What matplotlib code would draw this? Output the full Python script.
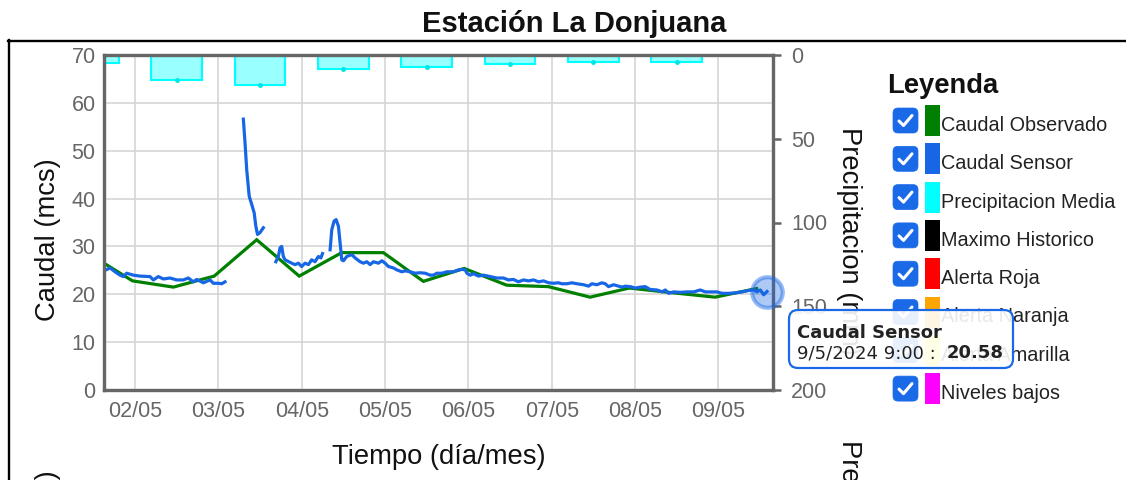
import numpy as np
import matplotlib
matplotlib.use("Agg")
import matplotlib.pyplot as plt
from matplotlib.patches import FancyBboxPatch, Rectangle
from matplotlib.lines import Line2D
from matplotlib.transforms import Affine2D

plt.rcParams['font.family'] = ['Liberation Sans', 'DejaVu Sans']

# dias de mayo (fraccion de dia)
dias_obs = [1.47, 1.97, 2.46, 2.95, 3.46, 3.97, 4.48, 4.98, 5.46, 5.95,
            6.46, 6.96, 7.46, 7.93, 8.46, 8.96, 9.46]
caudal_obs = [28.2, 22.8, 21.5, 23.8, 31.4, 23.8, 28.7, 28.7, 22.7, 25.4,
              21.9, 21.6, 19.4, 21.3, 20.3, 19.4, 21.2]

# sensor, None = sin dato
dias_sensor = [1.60, 1.652, 1.70, 1.76, 1.82, 1.86, 1.90, 1.98, 2.06, 2.18, 2.22, 2.28,
               2.34, 2.42, 2.50, 2.58, 2.64, 2.70, 2.74, 2.82, 2.90, 2.94, 3.00, 3.04, 3.08,
               3.15,
               3.30, 3.32, 3.34, 3.37, 3.40, 3.43, 3.45, 3.47, 3.50, 3.54,
               3.60,
               3.69, 3.72, 3.74, 3.76, 3.78, 3.80, 3.88, 3.92, 3.96, 4.00, 4.04, 4.08,
               4.12, 4.16, 4.20, 4.23, 4.25,
               4.30,
               4.341, 4.361, 4.389, 4.413, 4.441, 4.461, 4.481, 4.501, 4.541, 4.601,
               4.641, 4.701, 4.741, 4.781, 4.821, 4.861, 4.921, 4.962, 5.001, 5.041,
               5.101, 5.142, 5.202, 5.241, 5.301, 5.361, 5.421, 5.481, 5.541, 5.581,
               5.622, 5.682, 5.742, 5.821, 5.881, 5.922, 5.962, 5.982, 6.022, 6.061,
               6.121, 6.181, 6.262, 6.342, 6.421, 6.481, 6.541, 6.601, 6.661, 6.721,
               6.782, 6.842, 6.902, 6.962, 7.022, 7.081, 7.122, 7.182, 7.242, 7.302,
               7.382, 7.442, 7.482, 7.542, 7.602, 7.642, 7.682, 7.742, 7.802, 7.842,
               7.882, 7.942, 8.002, 8.062, 8.122, 8.182, 8.263, 8.323, 8.363, 8.403,
               8.463, 8.543, 8.623, 8.703, 8.783, 8.843, 8.903, 8.983, 9.043, 9.123,
               9.203, 9.283, 9.363, 9.423, 9.463, 9.503, 9.543, 9.583]
caudal_sensor = [25.0, 25.1, 25.5, 24.7, 24.0, 23.7, 24.4, 24.0, 23.8, 23.7, 23.0, 23.7,
                 23.2, 23.4, 23.0, 23.0, 23.4, 22.6, 23.1, 22.4, 23.0, 22.3, 22.3, 22.2, 22.6,
                 None,
                 56.6, 51.7, 46.1, 40.5, 38.8, 37.0, 34.2, 32.5, 32.9, 33.9,
                 None,
                 26.8, 27.9, 29.7, 30.0, 27.9, 27.2, 26.5, 26.2, 26.5, 25.8, 26.5, 26.2,
                 27.2, 26.8, 27.9, 27.6, 28.5,
                 None,
                 29.3, 33.5, 35.3, 35.6, 34.2, 30.7, 27.2, 27.0, 27.9, 28.3,
                 27.6, 26.8, 26.5, 26.8, 26.2, 26.8, 26.5, 27.0, 26.5, 25.8,
                 25.5, 25.1, 24.7, 24.9, 24.7, 24.4, 24.5, 24.4, 24.0, 24.0,
                 24.4, 24.4, 24.7, 24.7, 25.1, 25.2, 25.1, 24.4, 24.0, 24.3,
                 23.8, 24.0, 23.7, 23.4, 23.4, 23.0, 23.1, 22.6, 23.0, 22.8,
                 23.0, 22.6, 22.8, 22.4, 22.3, 22.4, 22.2, 22.2, 22.4, 22.2,
                 22.0, 21.7, 22.2, 22.0, 22.4, 22.2, 21.6, 22.0, 21.7, 21.5,
                 21.7, 21.6, 21.3, 21.5, 21.6, 21.0, 20.9, 20.5, 20.9, 20.2,
                 20.5, 20.4, 20.5, 20.5, 20.9, 20.5, 20.5, 20.5, 20.2, 20.2,
                 20.3, 20.5, 20.8, 20.9, 20.5, 20.9, 19.9, 20.58]

dias_precip = [1.5, 2.5, 3.5, 4.5, 5.5, 6.5, 7.5, 8.5]
precip = [4.5, 15.0, 18.0, 8.5, 7.3, 5.6, 4.0, 4.0]

tick_dias = [2, 3, 4, 5, 6, 7, 8, 9]
tick_labels = ['02/05', '03/05', '04/05', '05/05', '06/05', '07/05', '08/05', '09/05']

leyenda = ['Caudal Observado', 'Caudal Sensor', 'Precipitacion Media', 'Maximo Historico',
           'Alerta Roja', 'Alerta Naranja', 'Alerta Amarilla', 'Niveles bajos']
leyenda_colores = ['#008000', '#1766e5', '#00ffff', '#000000',
                   '#ff0000', '#ffa500', '#ffff00', '#ff00ff']

azul = '#1766e5'
W, H = 1126, 480

fig = plt.figure(figsize=(W / 100, H / 100), dpi=100)
fig.patch.set_facecolor('white')
# coordenadas en pixeles desde arriba
T = Affine2D().scale(1, -1).translate(0, H)

ax = fig.add_axes([104 / W, 1 - 390 / H, 669 / W, 335 / H])
ax2 = ax.twinx()
ax.set_zorder(ax2.get_zorder() + 1)
ax.patch.set_visible(False)

# precipitacion (eje invertido)
ax2.bar(dias_precip, precip, width=0.61, color=(0.6, 1.0, 1.0), edgecolor='#00ffff',
        linewidth=1.5)
ax2.plot(dias_precip, precip, 'o', color='#00e5e5', ms=2.5, ls='none')
ax2.set_ylim(200, 0)
ax2.set_yticks([0, 50, 100, 150, 200])

ys = np.array([np.nan if v is None else v for v in caudal_sensor], dtype=float)
ax.plot(dias_obs, caudal_obs, color='#008000', lw=2.3, solid_joinstyle='miter')
ax.plot(dias_sensor, ys, color=azul, lw=2.3)
ax.plot([dias_sensor[-1]], [caudal_sensor[-1]], 'o', ms=22, mfc=(0.09, 0.4, 0.9, 0.35),
        mec=(0.09, 0.4, 0.9, 0.45), mew=3, clip_on=False, zorder=5)

ax.set_xlim(1.628, 9.655)
ax.set_ylim(0, 70)
ax.set_xticks(tick_dias)
ax.set_xticklabels(tick_labels)
ax.set_yticks(range(0, 71, 10))
ax.grid(True, color='#d5d5d5', lw=1.2)

for a in (ax, ax2):
    for s in a.spines.values():
        s.set_color('#666666')
        s.set_linewidth(2.3)
ax.tick_params(axis='both', length=0, labelsize=15.5, labelcolor='#666666')
ax.tick_params(axis='x', pad=8)
ax.tick_params(axis='y', pad=6)
ax2.tick_params(axis='y', length=6, width=1.8, color='#666666', labelsize=15.5,
                labelcolor='#666666', pad=7)

# textos
fig.text(574, 24, 'Estación La Donjuana', transform=T, ha='center', va='center',
         fontsize=21, fontweight='bold', color='#111111')
fig.text(439, 457, 'Tiempo (día/mes)', transform=T, ha='center', va='center',
         fontsize=19.7, color='#111111')
fig.text(48, 240, 'Caudal (mcs)', transform=T, rotation=90, ha='center', va='center',
         fontsize=19.7, color='#111111')
fig.text(48, 470, 'Caudal (mcs)', transform=T, rotation=90, ha='center', va='top',
         fontsize=19.7, color='#111111')
fig.text(849, 127, 'Precipitacion (mm)', transform=T, rotation=270, ha='center', va='top',
         fontsize=19.7, color='#111111')
fig.text(849, 440, 'Precipitacion (mm)', transform=T, rotation=270, ha='center', va='top',
         fontsize=19.7, color='#111111')

# marco exterior
fig.add_artist(Line2D([8, W], [40.5, 40.5], transform=T, color='black', lw=1.7))
fig.add_artist(Line2D([8.5, 8.5], [40, H], transform=T, color='black', lw=1.7))

# leyenda
fig.text(887, 93, 'Leyenda', transform=T, va='baseline', fontsize=19.7,
         fontweight='bold', color='#111111')
for i, (nombre, col) in enumerate(zip(leyenda, leyenda_colores)):
    yc = 120.5 + 38.3 * i
    fig.add_artist(FancyBboxPatch((893, yc - 12.5), 25, 25, transform=T,
                                  boxstyle='round,pad=0,rounding_size=5',
                                  fc='#1a6ae8', ec='#1a6ae8', lw=0.5))
    fig.add_artist(Line2D([899, 903.5, 912], [yc + 0.5, yc + 5, yc - 5], transform=T,
                          color='white', lw=2.2, solid_capstyle='round',
                          solid_joinstyle='round'))
    fig.add_artist(Rectangle((925, yc - 15.5), 15, 31, transform=T, fc=col, ec='none'))
    fig.text(941, yc + 10.5, nombre, transform=T, va='baseline', fontsize=14.3,
             color='#222222')

# tooltip
fig.add_artist(FancyBboxPatch((789, 310), 224, 58, transform=T,
                              boxstyle='round,pad=0,rounding_size=9',
                              fc=(1, 1, 1, 0.9), ec='#1a6ae8', lw=1.6, zorder=10))
fig.text(797, 338, 'Caudal Sensor', transform=T, va='baseline', fontsize=13,
         family='DejaVu Sans', fontweight='bold', color='#222222', zorder=11)
fig.text(797, 358, '9/5/2024 9:00 : ', transform=T, va='baseline', fontsize=13,
         family='DejaVu Sans', color='#222222', zorder=11)
fig.text(947, 358, '20.58', transform=T, va='baseline', fontsize=13,
         family='DejaVu Sans', fontweight='bold', color='#222222', zorder=11)

fig.savefig('out.png', dpi=100)
